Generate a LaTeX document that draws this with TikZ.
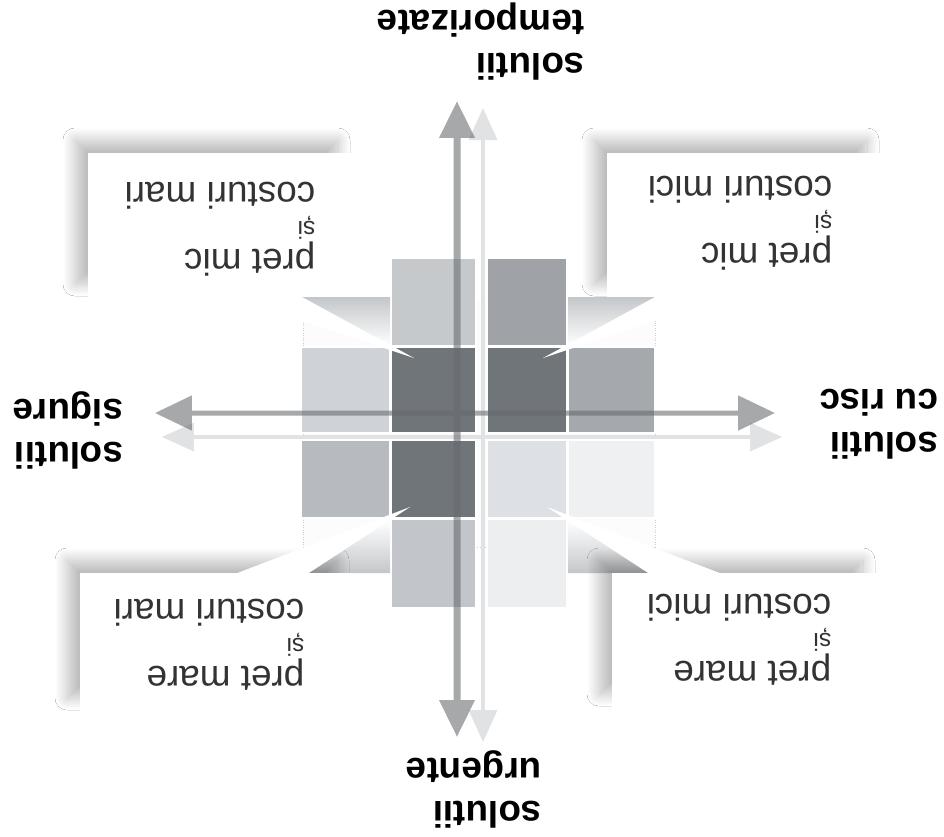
\documentclass[tikz,border=0pt]{standalone}
\usepackage{fontspec}
\setmainfont{Liberation Sans}
\usetikzlibrary{arrows.meta,shadows.blur}

\definecolor{axisgray}{HTML}{666A6E}
\definecolor{faintgray}{HTML}{E0E2E4}
\definecolor{wedgegray}{HTML}{C4C7CA}
\definecolor{cellA}{HTML}{C6C9CC}
\definecolor{cellB}{HTML}{9FA3A7}
\definecolor{cellC}{HTML}{CFD3D7}
\definecolor{cellD}{HTML}{70757A}
\definecolor{cellE}{HTML}{A5A9AD}
\definecolor{cellF}{HTML}{B7BBBF}
\definecolor{cellG}{HTML}{DDE1E5}
\definecolor{cellH}{HTML}{EEF0F2}
\definecolor{cellI}{HTML}{C2C6CA}
\definecolor{cellJ}{HTML}{ECEEF0}
\definecolor{notetext}{HTML}{333333}

\begin{document}
\begin{tikzpicture}[x=0.02cm,y=-0.02cm,
  note/.style={rotate=180, align=left, inner sep=0pt, text=notetext,
    font=\fontsize{21}{19}\selectfont},
  axislabel/.style={rotate=180, align=left, inner sep=0pt,
    font=\fontsize{21}{24.5}\selectfont\bfseries},
  cell/.style={draw=white, line width=0.6pt},
  panel/.style={fill=white, blur shadow={shadow xshift=-0.26cm,
    shadow yshift=0.26cm, shadow blur radius=0.24cm,
    shadow blur steps=18, shadow opacity=26}},
  mainaxis/.style={draw=axisgray, line cap=butt,
    {Triangle[width=0.68cm,length=0.74cm]}-{Triangle[width=0.68cm,length=0.74cm]}},
  faintaxis/.style={draw=faintgray, line width=0.07cm,
    {Triangle[width=0.56cm,length=0.64cm]}-{Triangle[width=0.56cm,length=0.64cm]}}
]
% canvas
\fill[white] (0,0) rectangle (944,836);
\useasboundingbox (0,0) rectangle (944,836);

% pale square behind the matrix
\fill[white!98!gray] (303,300) rectangle (655,547);
\draw[gray!40, densely dotted, line width=0.4pt]
  (303,318) -- (303,547) -- (655,547) -- (655,318);

% matrix cells: columns A 301-390, B 391-476, C 487-567, D 568-655
\fill[cell, fill=cellA] (391,258) rectangle (476,346);
\fill[cell, fill=cellB] (487,258) rectangle (567,346);
\fill[cell, fill=cellC] (301,347) rectangle (390,433);
\fill[cell, fill=cellD] (391,347) rectangle (476,433);
\fill[cell, fill=cellD] (487,347) rectangle (567,433);
\fill[cell, fill=cellE] (568,347) rectangle (655,433);
\fill[cell, fill=cellF] (301,440) rectangle (390,518);
\fill[cell, fill=cellD] (391,440) rectangle (476,518);
\fill[cell, fill=cellG] (487,440) rectangle (567,518);
\fill[cell, fill=cellH] (568,440) rectangle (655,518);
\fill[cell, fill=cellI] (391,519) rectangle (476,608);
\fill[cell, fill=cellJ] (487,519) rectangle (567,608);

% axis end points
\coordinate (vtop) at (457,101);
\coordinate (vbot) at (457,737);
\coordinate (hleft) at (155,413);
\coordinate (hright) at (775,413);
\coordinate (fvtop) at (483,108);
\coordinate (fvbot) at (483,742);
\coordinate (fhleft) at (162,437);
\coordinate (fhright) at (782,437);

% pale companion arrows
\draw[faintaxis] (fvbot) -- (fvtop);
\draw[faintaxis] (fhleft) -- (fhright);

% main axes
\begin{scope}[transparency group, opacity=0.58]
  \draw[mainaxis, line width=0.14cm] (vbot) -- (vtop);
  \draw[mainaxis, line width=0.1cm] (hleft) -- (hright);
\end{scope}

% soft wedges beside the pointers
\shade[top color=wedgegray, bottom color=white] (296,297) -- (390,297) -- (390,346) -- cycle;
\shade[top color=wedgegray, bottom color=white] (661,297) -- (568,297) -- (568,346) -- cycle;
\shade[bottom color=wedgegray, top color=white] (303,573) -- (390,573) -- (390,520) -- cycle;
\shade[bottom color=wedgegray, top color=white] (654,573) -- (568,573) -- (568,520) -- cycle;

% corner panels with soft shadows
\fill[panel] (88,153) rectangle (351,297);
\fill[panel] (607,153) rectangle (880,297);
\fill[panel] (80,573) rectangle (350,711);
\fill[panel] (612,573) rectangle (876,707);

% pointers from the panels into the matrix
\fill[white] (229,296.5) -- (301,296.5) -- (414,358) -- cycle;
\fill[white] (656,296.5) -- (728,296.5) -- (543,358) -- cycle;
\fill[white] (236,573.5) -- (308,573.5) -- (410,507) -- cycle;
\fill[white] (649,573.5) -- (721,573.5) -- (547,507) -- cycle;

% panel texts
\node[note] (tl) at (220,229) {pret mic\\[-3pt]{\fontsize{14}{19}\selectfont și}\\[3pt]costuri mari};
\node[note] (tr) at (740,223) {pret mic\\[-3pt]{\fontsize{14}{19}\selectfont și}\\[3pt]costuri mici};
\node[note] (bl) at (209,645) {pret mare\\[-3pt]{\fontsize{14}{19}\selectfont și}\\[3pt]costuri mari};
\node[note] (br) at (739,640) {pret mare\\[-3pt]{\fontsize{14}{19}\selectfont și}\\[3pt]costuri mici};

% axis labels
\node[axislabel] (top) at (481,42) {solutii\\temporizate};
\node[axislabel] (bottom) at (474,789) {solutii\\urgente};
\node[axislabel] (left) at (68,430) {solutii\\sigure};
\node[axislabel] (right) at (879,424) {solutii\\cu risc};
\end{tikzpicture}
\end{document}
